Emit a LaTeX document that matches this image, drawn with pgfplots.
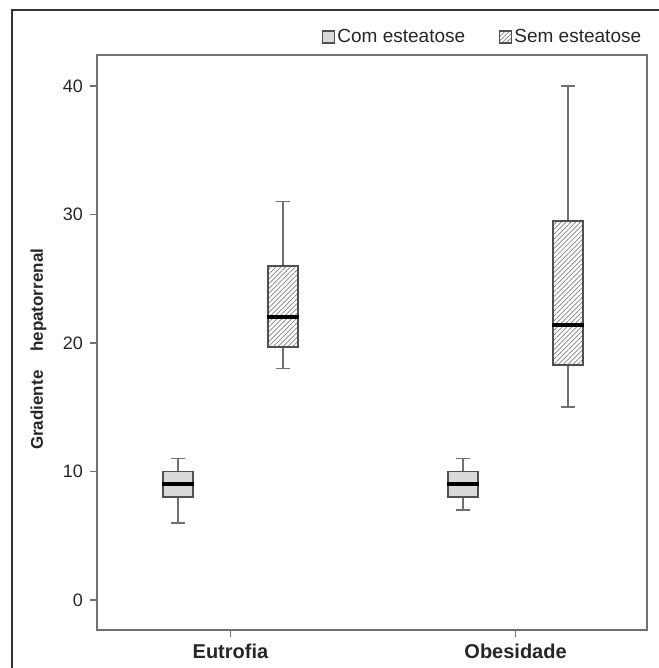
\documentclass[border=0pt]{standalone}
\usepackage{fontspec}
\setmainfont{Liberation Sans}
\usepackage{pgfplots}
\pgfplotsset{compat=1.18}
\usetikzlibrary{patterns.meta}
\definecolor{axgray}{HTML}{707070}
\definecolor{boxgray}{HTML}{505050}
\definecolor{fillgray}{HTML}{D9D9D9}
\pgfplotsset{
  wh/.style={draw=axgray, line width=0.75pt, mark=none, forget plot},
  boxcom/.style={draw=boxgray, fill=fillgray, line width=0.75pt, mark=none, forget plot},
  boxsem/.style={draw=boxgray, fill=white, pattern={Lines[angle=45,distance=1.7pt,line width=0.35pt]}, pattern color=gray, line width=0.75pt, mark=none, forget plot},
  med/.style={draw=black, line width=2pt, mark=none, forget plot},
}
\begin{document}
\begin{tikzpicture}
\useasboundingbox (0,0) rectangle (329pt,334pt);
\draw[color=black!80, line width=0.6pt] (6pt,-1pt) -- (6pt,329pt) -- (330pt,329pt);
\begin{axis}[
  at={(48.5pt,19pt)}, anchor=south west,
  scale only axis, width=275pt, height=287.5pt,
  xmin=0.532, xmax=2.461, ymin=-2.335, ymax=42.41,
  xtick={1,2}, xticklabels={Eutrofia,Obesidade},
  ytick={0,10,20,30,40},
  xtick pos=left, ytick pos=left,
  tick align=outside, major tick length=3.5pt,
  axis line style={axgray, line width=0.75pt},
  tick style={axgray, line width=0.75pt},
  /pgf/number format/assume math mode=true,
  yticklabel style={font=\fontsize{9}{10}\selectfont, text=black!85},
  xticklabel style={font=\bfseries\fontsize{10}{12}\selectfont, text=black!85},
  ylabel={Gradiente\hspace{7pt} hepatorrenal},
  ylabel style={font=\bfseries\fontsize{8.5}{10}\selectfont, text=black!85, at={(axis description cs:-0.0982,0.301)}, anchor=base west},
  legend style={at={(axis description cs:0.993,1.0313)}, anchor=east, draw=none, fill=none, inner sep=0pt, outer sep=0pt,
    font=\fontsize{9.5}{11}\selectfont, nodes={inner sep=1pt, text=black!85},
    /tikz/every even column/.append style={column sep=16pt}},
  legend columns=2, legend cell align=left,
]
\addlegendimage{legend image code/.code={\draw[draw=boxgray, fill=fillgray, line width=0.6pt] (0pt,-3pt) rectangle (6pt,3pt);}}
\addlegendentry{Com esteatose}
\addlegendimage{legend image code/.code={\draw[draw=boxgray, fill=white, pattern={Lines[angle=45,distance=1.5pt,line width=0.35pt]}, pattern color=gray, line width=0.6pt] (0pt,-3pt) rectangle (6pt,3pt);}}
\addlegendentry{Sem esteatose}

% ---- Eutrofia, Com esteatose (pos 0.816): 6, 8, 9, 10, 11
\addplot[wh] coordinates {(0.816,6) (0.816,8)};
\addplot[wh] coordinates {(0.816,10) (0.816,11)};
\addplot[wh] coordinates {(0.791,6) (0.841,6)};
\addplot[wh] coordinates {(0.791,11) (0.841,11)};
\addplot[boxcom] coordinates {(0.7635,8) (0.8685,8) (0.8685,10) (0.7635,10)} -- cycle;
\addplot[med] coordinates {(0.760,9) (0.872,9)};

% ---- Obesidade, Com esteatose (pos 1.816): 7, 8, 9, 10, 11
\addplot[wh] coordinates {(1.816,7) (1.816,8)};
\addplot[wh] coordinates {(1.816,10) (1.816,11)};
\addplot[wh] coordinates {(1.791,7) (1.841,7)};
\addplot[wh] coordinates {(1.791,11) (1.841,11)};
\addplot[boxcom] coordinates {(1.7635,8) (1.8685,8) (1.8685,10) (1.7635,10)} -- cycle;
\addplot[med] coordinates {(1.760,9) (1.872,9)};

% ---- Eutrofia, Sem esteatose (pos 1.184): 18, 19.7, 22, 26, 31
\addplot[wh] coordinates {(1.184,18) (1.184,19.7)};
\addplot[wh] coordinates {(1.184,26) (1.184,31)};
\addplot[wh] coordinates {(1.159,18) (1.209,18)};
\addplot[wh] coordinates {(1.159,31) (1.209,31)};
\addplot[boxsem] coordinates {(1.1315,19.7) (1.2365,19.7) (1.2365,26) (1.1315,26)} -- cycle;
\addplot[med] coordinates {(1.128,22) (1.240,22)};

% ---- Obesidade, Sem esteatose (pos 2.184): 15, 18.3, 21.4, 29.5, 40
\addplot[wh] coordinates {(2.184,15) (2.184,18.3)};
\addplot[wh] coordinates {(2.184,29.5) (2.184,40)};
\addplot[wh] coordinates {(2.159,15) (2.209,15)};
\addplot[wh] coordinates {(2.159,40) (2.209,40)};
\addplot[boxsem] coordinates {(2.1315,18.3) (2.2365,18.3) (2.2365,29.5) (2.1315,29.5)} -- cycle;
\addplot[med] coordinates {(2.128,21.4) (2.240,21.4)};
\end{axis}
\end{tikzpicture}
\end{document}
